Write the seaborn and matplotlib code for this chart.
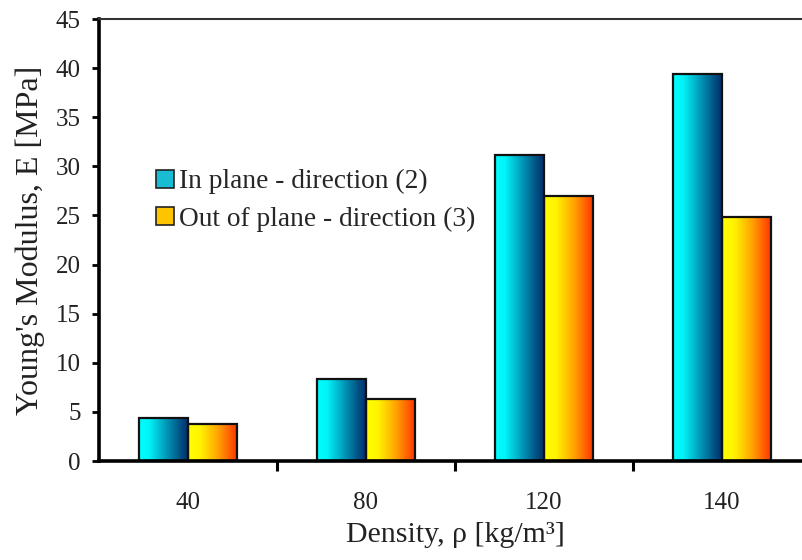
import numpy as np
import pandas as pd
import matplotlib
matplotlib.use("Agg")
import matplotlib.pyplot as plt
import seaborn as sns
from matplotlib.colors import LinearSegmentedColormap
from matplotlib.patches import Patch
from matplotlib.ticker import FixedLocator

# ---- data ----
densities = ["40", "80", "120", "140"]
in_plane = [4.35, 8.35, 31.2, 39.4]
out_of_plane = [3.77, 6.3, 27.0, 24.8]
series_names = ["In plane - direction (2)", "Out of plane - direction (3)"]
y_ticks = [0, 5, 10, 15, 20, 25, 30, 35, 40, 45]

df = pd.DataFrame({
    "density": densities * 2,
    "E": in_plane + out_of_plane,
    "series": [series_names[0]] * len(densities) + [series_names[1]] * len(densities),
})

sns.set_theme(style="white")
plt.rcParams["font.family"] = ["Liberation Serif", "DejaVu Serif"]

fig = plt.figure(figsize=(8.02, 5.6), dpi=100)
fig.patch.set_facecolor("white")
ax = fig.add_axes([99 / 802, (560 - 461) / 560, (811 - 99) / 802, (461 - 19) / 560])

legend_colors = ["#19BCD2", "#FFC400"]
sns.barplot(data=df, x="density", y="E", hue="series", order=densities,
            hue_order=series_names, palette=legend_colors, width=0.556,
            edgecolor="#111111", linewidth=1.6, ax=ax, legend=False)

cmaps = [
    LinearSegmentedColormap.from_list("cy", [(0, "#00FFFF"), (0.2, "#00F4F8"), (0.55, "#0098B8"), (0.8, "#005888"), (1, "#002A6A")]),
    LinearSegmentedColormap.from_list("yo", [(0, "#FFFF00"), (0.25, "#FFF200"), (0.6, "#FFA400"), (1, "#FF3000")]),
]
grad = np.linspace(0, 1, 256).reshape(1, -1)
bars = [p for p in ax.patches if p.get_height() > 0]
n = len(densities)
for i, p in enumerate(bars):
    cm = cmaps[0] if i < n else cmaps[1]
    x0, w, h = p.get_x(), p.get_width(), p.get_height()
    im = ax.imshow(grad, cmap=cm, aspect="auto", extent=[x0, x0 + w, 0, h],
                   zorder=p.get_zorder() - 0.01, interpolation="bilinear")
    im.set_clip_path(p)
    p.set_facecolor("none")

ax.set_xlim(-0.5, 3.5)
ax.set_ylim(0, 45)
ax.set_yticks(y_ticks)
ax.set_xticks(range(n))
ax.set_xticklabels(densities)
ax.xaxis.set_minor_locator(FixedLocator([0.5, 1.5, 2.5, 3.5]))

ax.tick_params(axis="x", which="major", length=0, pad=22, labelsize=18, colors="#222222")
ax.tick_params(axis="x", which="minor", direction="out", length=7, width=2.2, color="black", bottom=True)
ax.tick_params(axis="y", which="major", direction="out", length=5, width=2, color="black",
               labelsize=18, labelcolor="#222222", pad=8, left=True)

ax.spines["left"].set_linewidth(2.6)
ax.spines["left"].set_color("black")
ax.spines["bottom"].set_linewidth(2.6)
ax.spines["bottom"].set_color("black")
ax.spines["top"].set_linewidth(1.5)
ax.spines["top"].set_color("#333333")
ax.spines["right"].set_visible(False)

ax.set_xlabel("Density, ρ [kg/m³]", fontsize=21.5, color="#222222", labelpad=6)
ax.set_ylabel("Young's Modulus, E [MPa]", fontsize=23, color="#222222", labelpad=8)

handles = [Patch(facecolor=c, edgecolor="#222222", linewidth=1.2) for c in legend_colors]
ax.legend(handles, series_names, loc="upper left", bbox_to_anchor=(0.065, 0.685),
          frameon=False, fontsize=19.7, handlelength=0.65, handleheight=0.65,
          handletextpad=0.2, labelspacing=0.45, borderaxespad=0)

fig.savefig("out.png", dpi=100, facecolor="white")
